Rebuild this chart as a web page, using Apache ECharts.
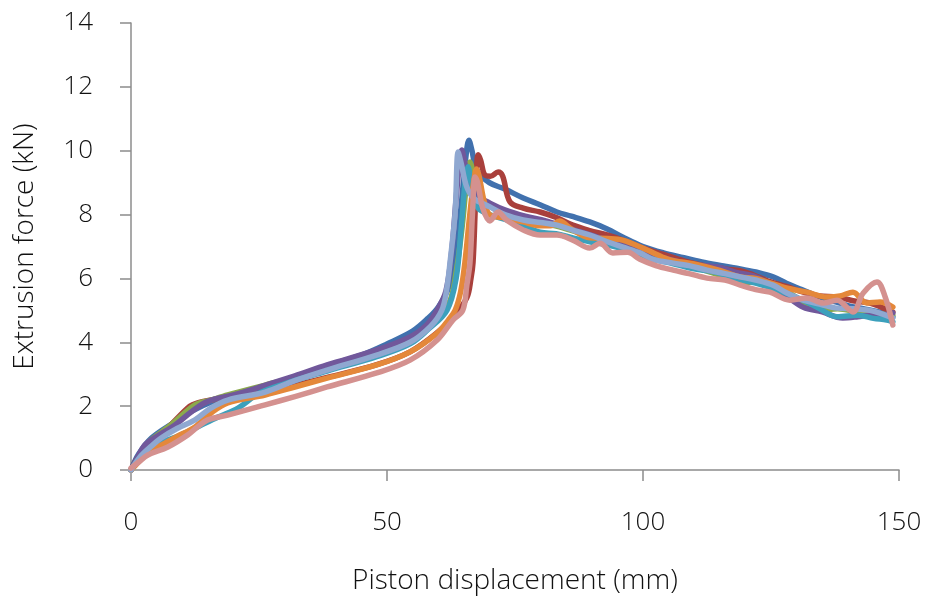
<!DOCTYPE html>
<html>
<head>
<meta charset="utf-8">
<script src="https://cdn.jsdelivr.net/npm/echarts@6/dist/echarts.min.js"></script>
<style>
  html, body { margin: 0; padding: 0; background: #fff; }
  #chart { width: 928px; height: 605px; }
</style>
</head>
<body>
<div id="chart"></div>
<script>
// Axis ticks
const xTicks = [0, 50, 100, 150];
const yTicks = [0, 2, 4, 6, 8, 10, 12, 14];

// Force–displacement runs, [displacement mm, force kN]
const run1 = [[0,0],[1.5,0.5],[4,1.0],[8,1.45],[12,1.85],[16,2.15],[20,2.3],[25,2.55],[30,2.8],[38,3.25],[45,3.6],[50,3.95],[55,4.35],[58,4.75],[60,5.1],[62,5.7],[63.5,6.8],[64.5,8.3],[65.4,9.8],[66,10.33],[66.6,10.0],[67.5,9.4],[70,9.0],[73,8.8],[76.6,8.52],[80,8.3],[83.2,8.08],[86,7.95],[89.6,7.77],[93,7.55],[96,7.3],[100,7.0],[104,6.8],[108,6.65],[112,6.5],[116,6.38],[119,6.3],[122,6.2],[125.4,6.05],[128,5.85],[131,5.65],[134,5.45],[137,5.3],[140,5.15],[143,5.05],[146,4.95],[148.8,4.8]];
const run2 = [[0,0],[2,0.55],[5,1.0],[8,1.45],[11.5,2.0],[13,2.1],[16,2.2],[20,2.3],[25.2,2.4],[32,2.65],[38.3,2.9],[48,3.3],[54.5,3.7],[59.8,4.3],[63,4.8],[65.6,5.4],[66.4,6.0],[66.8,6.5],[67.2,8.05],[67.5,9.5],[67.8,9.87],[68.3,9.7],[69.1,9.24],[70.2,9.2],[71.7,9.33],[72.6,9.2],[74,8.4],[76.6,8.2],[79.9,8.08],[83.2,7.9],[86.3,7.67],[89.6,7.5],[93,7.36],[96,7.2],[100,6.95],[104,6.75],[108,6.55],[112,6.4],[116,6.3],[120,6.2],[124.8,5.9],[128,5.75],[131.3,5.57],[134.5,5.45],[137.9,5.42],[141,5.3],[144.3,5.23],[146.5,5.1],[148.8,4.95]];
const run3 = [[0,0],[1.5,0.4],[3.3,0.85],[7.8,1.41],[12.5,2.04],[15.6,2.19],[18.9,2.35],[26.2,2.66],[32,2.9],[38.3,3.22],[48,3.65],[54.5,4.05],[58.5,4.6],[60.5,5.0],[62.3,5.3],[63.5,6.2],[64.6,7.5],[65.6,9.08],[66.2,9.65],[66.7,9.4],[67.5,8.8],[69,8.4],[72,8.1],[76,7.9],[80,7.75],[84,7.6],[88,7.4],[92,7.2],[96,7.0],[100,6.8],[105,6.55],[110,6.35],[115,6.1],[119,5.85],[122,5.9],[125,5.8],[128,5.6],[131,5.3],[134.6,5.0],[138,5.05],[142,4.95],[145,4.9],[148.8,4.85]];
const run4 = [[0,0],[1,0.3],[2.7,0.78],[5,1.05],[8.6,1.41],[12,1.85],[15,2.15],[20,2.35],[25.2,2.6],[32,2.95],[38.3,3.29],[48,3.76],[54.5,4.17],[57.5,4.5],[59.8,5.01],[61.5,5.6],[62.6,6.8],[63.5,8.5],[64.2,9.7],[64.6,10.02],[65.1,9.7],[66,9.0],[67.5,8.6],[70.1,8.36],[73,8.15],[77,7.95],[81,7.8],[85,7.6],[89,7.4],[93,7.2],[97,7.0],[101,6.8],[105,6.6],[109,6.45],[114.5,6.36],[118,6.2],[122,6.05],[125,5.8],[128,5.45],[131.3,5.1],[135,4.95],[139,4.76],[142,4.8],[144.3,4.85],[146.5,4.85],[148.8,4.92]];
const run5 = [[0,0],[2,0.45],[5,0.8],[9,1.05],[12.5,1.31],[17,1.66],[20.9,1.94],[25,2.4],[30,2.7],[38.3,3.1],[48,3.55],[54.5,3.95],[58,4.4],[61.7,5.0],[63.5,6.0],[64.5,7.6],[65.3,9.1],[65.8,9.5],[66.4,9.0],[67.2,8.4],[68.2,8.14],[71,7.95],[75,7.75],[79.9,7.45],[83,7.4],[86.3,7.27],[89.6,7.15],[93,7.05],[96.5,6.9],[100.8,6.64],[105,6.5],[110,6.3],[114,6.2],[118,6.0],[122,5.85],[126,5.65],[130,5.4],[134,5.1],[137.9,4.8],[142,4.85],[145,4.75],[147.6,4.7],[148.8,4.64]];
const run6 = [[0,0],[1.5,0.25],[3,0.55],[5.9,0.78],[9,1.05],[12.5,1.35],[15.6,1.78],[18.9,2.1],[26.2,2.35],[32,2.6],[38.3,2.88],[48,3.29],[54.5,3.7],[59.8,4.29],[62,4.7],[63.3,5.0],[64.4,5.6],[65.2,6.48],[66.2,8.05],[67,9.1],[67.5,9.43],[68,9.2],[69,8.4],[70.1,7.99],[73,7.9],[76.6,7.77],[80,7.65],[82,7.65],[83.7,7.8],[86,7.55],[89.6,7.27],[93,7.25],[96,7.2],[100.8,6.89],[105,6.6],[110,6.45],[115,6.25],[119,6.05],[122,6.0],[124.8,5.86],[128,5.7],[132,5.57],[135.9,5.42],[138.5,5.45],[141,5.57],[143.7,5.23],[146.3,5.26],[148.8,5.1]];
const run7 = [[0,0],[2,0.45],[4,0.75],[5.9,1.0],[9,1.3],[12.5,1.57],[15.6,1.94],[18.9,2.19],[26.2,2.44],[32,2.8],[38.3,3.13],[48,3.6],[54.5,4.0],[58.5,4.5],[60.7,5.0],[61.6,5.6],[62.3,6.48],[63.3,8.05],[63.9,9.96],[64.5,9.6],[65.5,8.9],[67,8.5],[70.1,8.24],[73,8.0],[76.6,7.83],[80,7.75],[83.2,7.67],[86.5,7.5],[89.6,7.36],[93,7.15],[96.1,6.98],[99.4,6.8],[102,6.6],[105.9,6.48],[109,6.4],[112.5,6.26],[116,6.15],[119,6.05],[122,5.95],[125.4,5.79],[128,5.55],[131.3,5.32],[134.5,5.2],[137.9,5.07],[141,5.05],[144.3,5.0],[146.5,4.9],[148.8,4.76]];
const run8 = [[0,0.06],[1.5,0.25],[3.3,0.47],[7.2,0.72],[11.1,1.1],[13,1.35],[15,1.57],[18.9,1.72],[26.2,2.04],[32,2.3],[38.3,2.6],[48,3.04],[54.5,3.44],[59.8,4.07],[62.9,4.7],[64.8,5.0],[65.6,5.8],[66.2,6.48],[66.7,8.05],[67.2,9.18],[67.7,9.0],[68.7,8.2],[70.1,7.8],[71.7,8.08],[73.4,7.82],[76.6,7.52],[79.9,7.36],[83.2,7.36],[86.3,7.2],[89.6,6.95],[91.6,7.1],[94.1,6.8],[97,6.82],[99.4,6.6],[102.5,6.4],[105.9,6.26],[109,6.15],[112.5,6.01],[116,5.95],[119,5.79],[122,5.65],[124.8,5.57],[128.7,5.32],[132,5.39],[135.2,5.23],[137.9,5.32],[141,4.95],[143,5.54],[145.7,5.89],[147.3,5.42],[148.8,4.54]];

const runs = [run1, run2, run3, run4, run5, run6, run7, run8];
const colors = ['#4171AE', '#A9403C', '#8BAA4C', '#71589B', '#3CA0BC', '#E4883A', '#8FA8D1', '#D4918F'];

const FONT = '"Open Sans", "Noto Sans", sans-serif';
const axisGrey = '#8C8C8C';
const textColor = '#111111';

const chart = echarts.init(document.getElementById('chart'), null, { renderer: 'canvas' });
chart.setOption({
  animation: false,
  backgroundColor: '#ffffff',
  grid: { left: 131, right: 29, top: 23, bottom: 135, containLabel: false, outerBoundsMode: 'none' },
  xAxis: {
    type: 'value',
    min: xTicks[0],
    max: xTicks[xTicks.length - 1],
    interval: xTicks[1] - xTicks[0],
    name: 'Piston displacement (mm)',
    nameLocation: 'middle',
    nameGap: 97,
    nameTextStyle: { fontFamily: FONT, fontSize: 28, fontWeight: 300, color: textColor },
    axisLine: { show: true, lineStyle: { color: axisGrey, width: 1.5 } },
    axisTick: { show: true, inside: false, length: 11, lineStyle: { color: axisGrey, width: 1.5 } },
    axisLabel: { fontFamily: FONT, fontSize: 26, fontWeight: 300, color: textColor, margin: 40 },
    splitLine: { show: false }
  },
  yAxis: {
    type: 'value',
    min: yTicks[0],
    max: yTicks[yTicks.length - 1],
    interval: yTicks[1] - yTicks[0],
    name: 'Extrusion force (kN)',
    nameLocation: 'middle',
    nameGap: 92,
    nameRotate: 90,
    nameTextStyle: { fontFamily: FONT, fontSize: 28, fontWeight: 300, color: textColor },
    axisLine: { show: true, lineStyle: { color: axisGrey, width: 1.5 } },
    axisTick: { show: true, inside: false, length: 11, lineStyle: { color: axisGrey, width: 1.5 } },
    axisLabel: { fontFamily: FONT, fontSize: 26, fontWeight: 300, color: textColor, margin: 38 },
    splitLine: { show: false }
  },
  series: runs.map((data, i) => ({
    type: 'line',
    data: data,
    showSymbol: false,
    symbol: 'none',
    smooth: 0.35,
    color: colors[i],
    lineStyle: { width: 5.5, color: colors[i], cap: 'round', join: 'round' },
    z: 2 + i
  }))
});
</script>
</body>
</html>
